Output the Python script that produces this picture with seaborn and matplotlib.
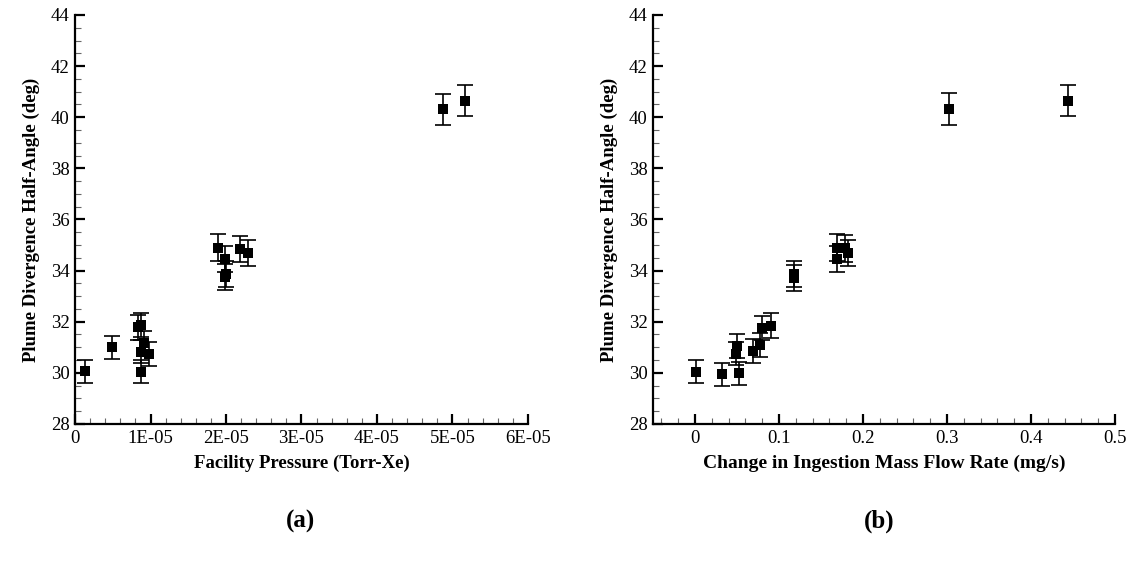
import numpy as np
import pandas as pd
import matplotlib.pyplot as plt
import seaborn as sns
from matplotlib.ticker import MultipleLocator

# Data
# (a) plume divergence vs facility pressure
pressure = [1.3e-06, 4.9e-06, 8.4e-06, 8.8e-06, 9.1e-06, 8.7e-06, 9.85e-06, 8.7e-06,
            1.89e-05, 1.99e-05, 1.99e-05, 2.0e-05, 2.185e-05, 2.287e-05, 4.87e-05, 5.17e-05]
angle_a = [30.07, 31.0, 31.78, 31.87, 31.16, 30.83, 30.74, 30.05,
           34.9, 34.45, 33.74, 33.85, 34.85, 34.68, 40.31, 40.64]
err_a = [0.45, 0.46, 0.48, 0.48, 0.47, 0.46, 0.46, 0.45,
         0.52, 0.52, 0.51, 0.51, 0.52, 0.52, 0.61, 0.61]

# (b) plume divergence vs change in ingestion mass flow rate
flow = [0.001, 0.032, 0.052, 0.049, 0.05, 0.069, 0.078, 0.08, 0.09,
        0.118, 0.118, 0.169, 0.169, 0.179, 0.1825, 0.302, 0.444]
angle_b = [30.05, 29.95, 29.98, 30.75, 31.05, 30.85, 31.1, 31.75, 31.85,
           33.72, 33.85, 34.9, 34.45, 34.87, 34.68, 40.32, 40.64]
err_b = [0.45, 0.45, 0.45, 0.46, 0.47, 0.46, 0.47, 0.48, 0.48,
         0.51, 0.51, 0.52, 0.52, 0.52, 0.52, 0.61, 0.61]

df_a = pd.DataFrame({"x": pressure, "y": angle_a, "err": err_a})
df_b = pd.DataFrame({"x": flow, "y": angle_b, "err": err_b})

sns.set_style("ticks")
plt.rcParams['font.family'] = ['Liberation Serif', 'DejaVu Serif']
plt.rcParams['text.color'] = 'black'
plt.rcParams['axes.labelcolor'] = 'black'
plt.rcParams['xtick.color'] = 'black'
plt.rcParams['ytick.color'] = 'black'

fig = plt.figure(figsize=(11.33, 5.62), dpi=100)
ax1 = fig.add_axes([0.0662, 0.2456, 0.3998, 0.7278])
ax2 = fig.add_axes([0.5763, 0.2456, 0.4078, 0.7278])


def draw(ax, df):
    ax.errorbar(df["x"], df["y"], yerr=df["err"], fmt="none", ecolor="black",
                elinewidth=1.2, capsize=5.5, capthick=1.2, zorder=2)
    sns.scatterplot(data=df, x="x", y="y", marker="s", color="black", s=50,
                    edgecolor="black", linewidth=0, ax=ax, zorder=3)
    ax.set_ylim(28, 44)
    ax.yaxis.set_major_locator(MultipleLocator(2))
    ax.yaxis.set_minor_locator(MultipleLocator(0.5))
    sns.despine(ax=ax)
    for s in ["left", "bottom"]:
        ax.spines[s].set_linewidth(1.6)
        ax.spines[s].set_color("black")
    ax.tick_params(which="major", direction="in", length=7, width=1.6, labelsize=13.5,
                   color="black", labelcolor="black", pad=4)
    ax.tick_params(which="minor", direction="in", length=4, width=0.8, color="#666666")
    ax.set_ylabel("Plume Divergence Half-Angle (deg)", fontsize=13.5, fontweight="bold",
                  labelpad=8, color="black")


draw(ax1, df_a)
ax1.set_xlim(0, 6e-05)
ax1.set_xticks(np.arange(0, 6.1e-05, 1e-05))
ax1.set_xticklabels(["0", "1E-05", "2E-05", "3E-05", "4E-05", "5E-05", "6E-05"])
ax1.xaxis.set_minor_locator(MultipleLocator(2e-06))
ax1.set_xlabel("Facility Pressure (Torr-Xe)", fontsize=13.5, fontweight="bold",
               labelpad=6, color="black")

draw(ax2, df_b)
ax2.set_xlim(-0.05, 0.5)
ax2.set_xticks([0, 0.1, 0.2, 0.3, 0.4, 0.5])
ax2.set_xticklabels(["0", "0.1", "0.2", "0.3", "0.4", "0.5"])
ax2.xaxis.set_minor_locator(MultipleLocator(0.02))
ax2.set_xlabel("Change in Ingestion Mass Flow Rate (mg/s)", fontsize=14,
               fontweight="bold", labelpad=6, color="black")

fig.text(0.265, 0.072, "(a)", fontsize=18, fontweight="bold", ha="center", va="center")
fig.text(0.776, 0.072, "(b)", fontsize=18, fontweight="bold", ha="center", va="center")

fig.savefig("out.png", dpi=100)
